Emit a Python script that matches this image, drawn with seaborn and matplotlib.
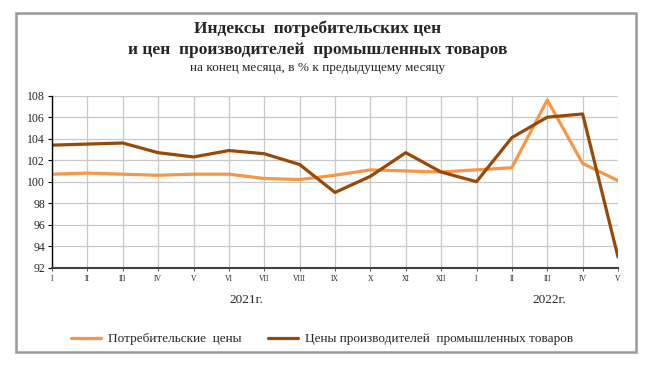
import numpy as np
import pandas as pd
import matplotlib
matplotlib.use("Agg")
import matplotlib.pyplot as plt
import matplotlib.transforms as mtransforms
from matplotlib.patches import Rectangle
import seaborn as sns

months = ['I', 'II', 'III', 'IV', 'V', 'VI', 'VII', 'VIII', 'IX', 'X', 'XI', 'XII',
          'I', 'II', 'III', 'IV', 'V']
consumer = [100.7, 100.8, 100.7, 100.6, 100.7, 100.7, 100.3, 100.2, 100.6, 101.1,
            101.0, 100.9, 101.1, 101.3, 107.6, 101.7, 100.1]
producer = [103.4, 103.5, 103.6, 102.7, 102.3, 102.9, 102.6, 101.6, 99.0, 100.5,
            102.7, 100.9, 100.0, 104.1, 106.0, 106.3, 93.0]
series_names = ['Потребительские  цены', 'Цены производителей  промышленных товаров']
years = ['2021г.', '2022г.']
y_ticks = [92, 94, 96, 98, 100, 102, 104, 106, 108]

title = 'Индексы  потребительских цен\nи цен  производителей  промышленных товаров'
subtitle = 'на конец месяца, в % к предыдущему месяцу'

df = pd.DataFrame({
    'pos': list(range(len(months))) * 2,
    'value': consumer + producer,
    'series': [series_names[0]] * len(months) + [series_names[1]] * len(months),
})

sns.set_style('white')
plt.rcParams['font.family'] = ['Liberation Serif', 'DejaVu Serif']

fig = plt.figure(figsize=(6.6, 3.75), dpi=100)
ax = fig.add_axes([52 / 660, 1 - 267.7 / 375, (618 - 52) / 660, (267.7 - 95.7) / 375])

palette = {series_names[0]: '#F79646', series_names[1]: '#984807'}
sns.lineplot(data=df, x='pos', y='value', hue='series', palette=palette,
             linewidth=2.3, ax=ax, legend=True)

ax.set_xlim(0, len(months) - 1)
ax.set_ylim(92, 108)
ax.set_xticks(range(len(months)))
ax.set_xticklabels(months, fontsize=5.5)
ax.set_yticks(y_ticks)
ax.set_yticklabels([str(t) for t in y_ticks], fontsize=8.5)
ax.set_xlabel('')
ax.set_ylabel('')
ax.grid(True, color='#C8C8C8', linewidth=0.9)
ax.set_axisbelow(True)
for s in ['top', 'right']:
    ax.spines[s].set_visible(False)
ax.spines['left'].set_color('black')
ax.spines['left'].set_linewidth(1.0)
ax.spines['bottom'].set_color('#404040')
ax.spines['bottom'].set_linewidth(1.5)
ax.tick_params(axis='y', direction='out', length=3, width=0.8, color='black', pad=2, left=True)
ax.tick_params(axis='x', direction='out', length=2, width=0.6, color='#404040', pad=3, bottom=True)

trans = mtransforms.blended_transform_factory(ax.transData, fig.transFigure)
ax.text(5.5, 1 - 300 / 375, years[0], transform=trans, ha='center', va='center', fontsize=9.5)
ax.text(14.05, 1 - 300 / 375, years[1], transform=trans, ha='center', va='center', fontsize=9.5)

ax.legend(loc='center', bbox_to_anchor=(322 / 660, 1 - 339 / 375), bbox_transform=fig.transFigure,
          ncol=2, frameon=False, fontsize=9.5, handlelength=2.3, columnspacing=2.0,
          handletextpad=0.5)

fig.text(318 / 660, 1 - 39.5 / 375, title, ha='center', va='center', fontsize=12.5,
         fontweight='bold', linespacing=1.4)
fig.text(318 / 660, 1 - 68 / 375, subtitle, ha='center', va='center', fontsize=9.5)

fig.patches.append(Rectangle((16 / 660, 1 - 352 / 375), 620 / 660, 339 / 375,
                             transform=fig.transFigure, fill=False, edgecolor='#999999',
                             linewidth=1.8))

fig.savefig('out.png', dpi=100)
